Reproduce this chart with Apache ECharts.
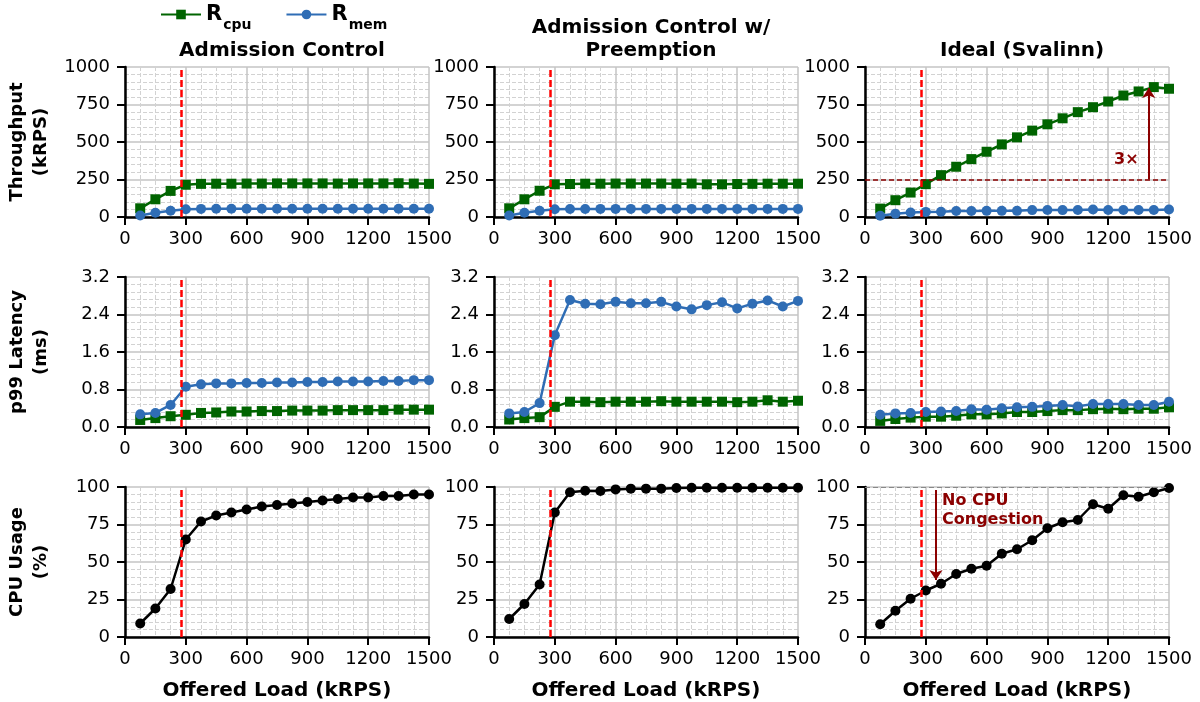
<!DOCTYPE html>
<html>
<head>
<meta charset="utf-8">
<script src="https://cdn.jsdelivr.net/npm/echarts@6/dist/echarts.min.js"></script>
<style>
  html, body { margin: 0; padding: 0; background: #fff; }
  #chart { width: 1200px; height: 702px; }
</style>
</head>
<body>
<div id="chart"></div>
<script>
// offered load (kRPS)
const xLoad = [75, 150, 225, 300, 375, 450, 525, 600, 675, 750, 825, 900, 975, 1050, 1125, 1200, 1275, 1350, 1425, 1500]

const columnTitles = ['Admission Control', 'Admission Control w/\nPreemption', 'Ideal (Svalinn)']
const rowNames = ['Throughput\n(kRPS)', 'p99 Latency\n(ms)', 'CPU Usage\n(%)']
const xName = 'Offered Load (kRPS)'

// throughput (kRPS)
const tputAcCpu = [58, 118, 174, 215, 221, 222, 222, 223, 223, 224, 224, 224, 224, 223, 224, 224, 224, 225, 223, 221]
const tputAcMem = [10, 28, 42, 52, 54, 55, 55, 55, 55, 55, 55, 55, 55, 55, 55, 55, 55, 55, 55, 55]
const tputPreCpu = [58, 118, 175, 218, 220, 222, 222, 223, 223, 223, 223, 222, 223, 218, 218, 220, 221, 222, 222, 222]
const tputPreMem = [10, 28, 42, 52, 53, 53, 54, 54, 54, 54, 54, 54, 54, 54, 54, 54, 54, 54, 54, 54]
const tputIdealCpu = [56, 112, 163, 219, 279, 335, 386, 435, 484, 531, 576, 618, 658, 699, 732, 770, 810, 837, 866, 855]
const tputIdealMem = [8, 22, 30, 34, 35, 40, 40, 41, 41, 41, 46, 47, 46, 47, 50, 47, 47, 47, 47, 50]

// p99 latency (ms)
const latAcCpu = [0.15, 0.19, 0.23, 0.26, 0.30, 0.31, 0.33, 0.33, 0.34, 0.34, 0.35, 0.35, 0.35, 0.36, 0.36, 0.36, 0.36, 0.37, 0.37, 0.37]
const latAcMem = [0.27, 0.30, 0.47, 0.86, 0.91, 0.93, 0.93, 0.94, 0.94, 0.95, 0.95, 0.96, 0.96, 0.97, 0.97, 0.97, 0.98, 0.98, 1.00, 1.00]
const latPreCpu = [0.16, 0.19, 0.21, 0.43, 0.54, 0.54, 0.53, 0.54, 0.54, 0.54, 0.55, 0.54, 0.54, 0.54, 0.54, 0.53, 0.54, 0.57, 0.54, 0.56]
const latPreMem = [0.29, 0.32, 0.51, 1.96, 2.71, 2.63, 2.62, 2.67, 2.64, 2.64, 2.67, 2.57, 2.51, 2.60, 2.66, 2.53, 2.63, 2.70, 2.57, 2.69]
const latIdealCpu = [0.13, 0.17, 0.20, 0.22, 0.22, 0.24, 0.27, 0.27, 0.29, 0.32, 0.32, 0.34, 0.36, 0.36, 0.38, 0.39, 0.38, 0.39, 0.39, 0.42]
const latIdealMem = [0.26, 0.29, 0.30, 0.32, 0.33, 0.34, 0.38, 0.37, 0.40, 0.42, 0.43, 0.45, 0.47, 0.44, 0.49, 0.49, 0.49, 0.47, 0.47, 0.54]

// CPU usage (%)
const cpuAc = [9, 19, 32, 65, 77, 81, 83, 85, 87, 88, 89, 90, 91, 92, 93, 93, 94, 94, 95, 95]
const cpuPre = [12, 22, 35, 83, 96.5, 97.5, 97.3, 98.4, 98.9, 98.9, 98.9, 99.3, 99.5, 99.5, 99.5, 99.5, 99.5, 99.5, 99.5, 99.5]
const cpuIdeal = [8.5, 17.5, 25.5, 31, 35.5, 42, 45.5, 47.5, 55.5, 58.5, 64.5, 72.5, 76.5, 78, 88.5, 85.5, 94.5, 93.5, 96.5, 99.3]

// y axis ranges per row
const yMax = [1000, 3.2, 100]
const yStep = [250, 0.8, 25]

// annotations
const saturationLoad = 280
const baselineTput = 250
const gainArrow = [1400, 250, 860]      // x, from y, to y
const gainLabel = [1350, 380]
const congestionArrow = [350, 98, 38]
const congestionLabel = [380, 97]

const GREEN = '#006400'
const BLUE = '#2f6db5'
const DARKRED = '#8b0000'
const FONT = 'DejaVu Sans'

const gridLeft = [125, 494, 865]
const gridTop = [67, 277, 487]
const gridW = 304
const gridH = 150

const chart = echarts.init(document.getElementById('chart'))

const grids = []
const xAxes = []
const yAxes = []
const series = []

const tputData = [[tputAcCpu, tputAcMem], [tputPreCpu, tputPreMem], [tputIdealCpu, tputIdealMem]]
const latData = [[latAcCpu, latAcMem], [latPreCpu, latPreMem], [latIdealCpu, latIdealMem]]
const cpuData = [cpuAc, cpuPre, cpuIdeal]

const pairs = vals => xLoad.map((x, i) => [x, vals[i]])

function satLine() {
  return {
    silent: true,
    symbol: ['none', 'none'],
    label: { show: false },
    lineStyle: { color: '#ff0000', width: 2.5, type: [7, 3] },
    data: [{ xAxis: saturationLoad }]
  }
}

const majorSplit = { show: true, lineStyle: { color: '#c4c4c4', width: 1.5 } }
const minorSplit = { show: true, lineStyle: { color: '#d2d2d2', width: 1, type: [4, 2] } }

for (let r = 0; r < 3; r++) {
  for (let c = 0; c < 3; c++) {
    const idx = r * 3 + c
    grids.push({ left: gridLeft[c], top: gridTop[r], width: gridW, height: gridH })
    xAxes.push({
      type: 'value',
      gridIndex: idx,
      min: 0,
      max: 1500,
      interval: 300,
      name: r === 2 ? xName : '',
      nameLocation: 'middle',
      nameGap: 44,
      nameTextStyle: { fontFamily: FONT, fontSize: 20, fontWeight: 'bold', color: '#000' },
      axisLine: { onZero: false, lineStyle: { color: '#000', width: 2.5 } },
      axisTick: { show: true, length: 8, lineStyle: { color: '#000', width: 2 } },
      axisLabel: { color: '#000', fontFamily: FONT, fontSize: 18, margin: 13, formatter: v => String(v) },
      splitLine: majorSplit,
      minorTick: { show: false, splitNumber: 4 },
      minorSplitLine: minorSplit
    })
    yAxes.push({
      type: 'value',
      gridIndex: idx,
      min: 0,
      max: yMax[r],
      interval: yStep[r],
      name: c === 0 ? rowNames[r] : '',
      nameLocation: 'middle',
      nameRotate: 90,
      nameGap: 72,
      nameTextStyle: { fontFamily: FONT, fontSize: 18, fontWeight: 'bold', color: '#000', lineHeight: 24 },
      axisLine: { show: true, lineStyle: { color: '#000', width: 2.5 } },
      axisTick: { show: true, length: 8, lineStyle: { color: '#000', width: 2 } },
      axisLabel: {
        color: '#000', fontFamily: FONT, fontSize: 18, margin: 15,
        formatter: r === 1 ? v => v.toFixed(1) : v => String(v)
      },
      splitLine: majorSplit,
      minorTick: { show: false, splitNumber: 5 },
      minorSplitLine: minorSplit
    })

    if (r < 2) {
      const d = r === 0 ? tputData[c] : latData[c]
      const cpuSeries = {
        name: 'Rcpu',
        type: 'line',
        xAxisIndex: idx,
        yAxisIndex: idx,
        data: pairs(d[0]),
        symbol: 'rect',
        symbolSize: 10,
        lineStyle: { color: GREEN, width: 2.5 },
        itemStyle: { color: GREEN },
        z: 3,
        markLine: satLine()
      }
      if (r === 0 && c === 2) {
        cpuSeries.markLine.data = [
          { xAxis: saturationLoad },
          { yAxis: baselineTput, lineStyle: { color: DARKRED, width: 1.5, type: [5, 3] } },
          [
            { coord: [gainArrow[0], gainArrow[1]], lineStyle: { color: DARKRED, width: 2, type: 'solid' }, symbol: 'none' },
            { coord: [gainArrow[0], gainArrow[2]], symbol: 'arrow', symbolSize: 10 }
          ]
        ]
        cpuSeries.markPoint = {
          silent: true,
          symbol: 'circle',
          symbolSize: 0,
          label: {
            show: true, position: 'inside', align: 'right', verticalAlign: 'middle',
            color: DARKRED, fontFamily: FONT, fontWeight: 'bold', fontSize: 16,
            formatter: '3×'
          },
          data: [{ coord: gainLabel }]
        }
      }
      series.push(cpuSeries)
      series.push({
        name: 'Rmem',
        type: 'line',
        xAxisIndex: idx,
        yAxisIndex: idx,
        data: pairs(d[1]),
        symbol: 'circle',
        symbolSize: 10,
        lineStyle: { color: BLUE, width: 2.5 },
        itemStyle: { color: BLUE },
        z: 4
      })
    } else {
      const s = {
        name: 'CPU',
        type: 'line',
        xAxisIndex: idx,
        yAxisIndex: idx,
        data: pairs(cpuData[c]),
        symbol: 'circle',
        symbolSize: 10,
        lineStyle: { color: '#000', width: 2.5 },
        itemStyle: { color: '#000' },
        z: 3,
        markLine: satLine()
      }
      if (c === 2) {
        s.markLine.data = [
          { xAxis: saturationLoad },
          { yAxis: 100, lineStyle: { color: '#888', width: 1, type: [5, 3] } },
          [
            { coord: [congestionArrow[0], congestionArrow[1]], lineStyle: { color: DARKRED, width: 2, type: 'solid' }, symbol: 'none' },
            { coord: [congestionArrow[0], congestionArrow[2]], symbol: 'arrow', symbolSize: 10 }
          ]
        ]
        s.markPoint = {
          silent: true,
          symbol: 'circle',
          symbolSize: 0,
          label: {
            show: true, position: 'inside', align: 'left', verticalAlign: 'top',
            color: DARKRED, fontFamily: FONT, fontWeight: 'bold', fontSize: 16, lineHeight: 19,
            formatter: 'No CPU\nCongestion'
          },
          data: [{ coord: congestionLabel }]
        }
      }
      series.push(s)
    }
  }
}

const titles = columnTitles.map((t, c) => ({
  text: t,
  left: gridLeft[c] + gridW / 2,
  top: c === 1 ? 11 : 34,
  textAlign: 'center',
  textStyle: { fontFamily: FONT, fontSize: 20, fontWeight: 'bold', color: '#000', lineHeight: 23 }
}))

const option = {
  animation: false,
  backgroundColor: '#fff',
  title: titles,
  legend: {
    data: ['Rcpu', 'Rmem'],
    left: 155,
    top: -1,
    itemWidth: 40,
    itemHeight: 12,
    itemGap: 34,
    formatter: name => name === 'Rcpu' ? '{r|R}{s|cpu}' : '{r|R}{s|mem}',
    textStyle: {
      rich: {
        r: { fontFamily: FONT, fontSize: 21, fontWeight: 'bold', color: '#000', verticalAlign: 'bottom' },
        s: { fontFamily: FONT, fontSize: 14, fontWeight: 'bold', color: '#000', verticalAlign: 'bottom', padding: [0, 0, -7, 1] }
      }
    }
  },
  grid: grids,
  xAxis: xAxes,
  yAxis: yAxes,
  series
}

chart.setOption(option)
</script>
</body>
</html>
